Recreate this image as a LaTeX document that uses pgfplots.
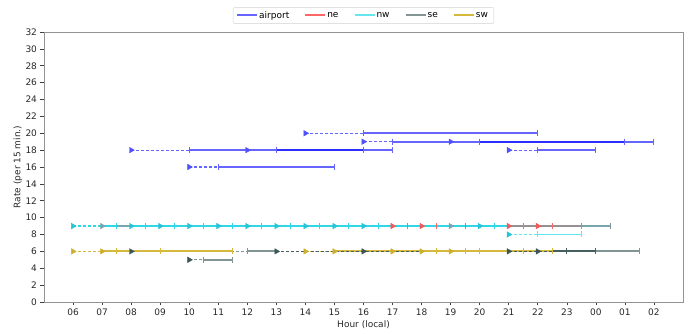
\documentclass[border=0pt]{standalone}
\usepackage{pgfplots}
\pgfplotsset{compat=1.18}
\usepackage{fontspec}
\setmainfont{DejaVu Sans}
\definecolor{airA}{RGB}{102,102,255}
\definecolor{airB}{RGB}{45,45,255}
\definecolor{airT}{RGB}{80,80,255}
\definecolor{neA}{RGB}{255,102,102}
\definecolor{neT}{RGB}{240,90,90}
\definecolor{neG}{RGB}{150,145,145}
\definecolor{nwA}{RGB}{102,231,240}
\definecolor{nwR}{RGB}{50,215,230}
\definecolor{nwT}{RGB}{40,195,215}
\definecolor{seA}{RGB}{130,149,149}
\definecolor{seB}{RGB}{70,95,95}
\definecolor{seC}{RGB}{120,165,172}
\definecolor{seT}{RGB}{60,85,85}
\definecolor{swR}{RGB}{214,184,60}
\definecolor{swT}{RGB}{205,175,45}
\definecolor{txt}{RGB}{40,40,40}
\pgfplotsset{
 lead/.style={draw=#1, line width=1.2pt, dash pattern=on 3pt off 2pt, mark=none, unbounded coords=jump, forget plot},
 run/.style={draw=#1, line width=1.8pt, solid, mark=none, unbounded coords=jump, forget plot},
 tri/.style={only marks, mark=triangle*, mark size=3.2pt, mark options={rotate=-90, draw=#1, fill=#1}, forget plot},
 bar/.style={only marks, mark=|, mark size=3pt, mark options={draw=#1, line width=1pt}, forget plot},
}
\newcommand{\legline}[1]{\node[inner sep=0pt, anchor=west] at (0pt,0pt) {\textcolor{#1}{\rule[-0.75pt]{20pt}{1.5pt}}};}
\begin{document}
\begin{tikzpicture}
\useasboundingbox (-44pt,-32pt) rectangle (647pt,302pt);
\begin{axis}[
 scale only axis, width=639pt, height=270pt,
 at={(0,0)}, anchor=south west,
 xmin=5, xmax=27, ymin=0, ymax=32, clip=false,
 xtick={6,...,26},
 xticklabels={06,07,08,09,10,11,12,13,14,15,16,17,18,19,20,21,22,23,00,01,02},
 ytick={0,2,...,32},
 /pgf/number format/assume math mode=true,
 tick label style={font=\fontsize{9}{10}\selectfont, text=txt},
 label style={font=\fontsize{9}{10}\selectfont, text=txt},
 xlabel={Hour (local)}, ylabel={Rate (per 15 min.)},
 xlabel style={at={(axis description cs:0.5,-0.085)}, anchor=center},
 ylabel style={at={(axis description cs:-0.0407,0.5)}, anchor=center},
 axis line style={gray!85, line width=0.9pt},
 tick style={black!75, line width=0.6pt},
 tick align=outside, major tick length=3.5pt,
 xtick pos=lower, ytick pos=left,
 legend columns=5,
 legend style={at={(axis description cs:0.5,1.03)}, anchor=south, draw=gray!35, rounded corners=2pt,
   font=\fontsize{9}{10}\selectfont, inner xsep=4pt, inner ysep=2pt,
   /tikz/every even column/.append style={column sep=14pt}},
]
\addlegendimage{legend image code/.code={\legline{airA}}}\addlegendentry{airport}
\addlegendimage{legend image code/.code={\legline{neA}}}\addlegendentry{ne}
\addlegendimage{legend image code/.code={\legline{nwA}}}\addlegendentry{nw}
\addlegendimage{legend image code/.code={\legline{seA}}}\addlegendentry{se}
\addlegendimage{legend image code/.code={\legline{swR}}}\addlegendentry{sw}

% ---------------- dashed lead-in parts ----------------
\addplot[lead=airA] coordinates {(14,20) (16,20) (nan,nan) (16,19) (17,19) (nan,nan) (19,19) (20,19) (nan,nan) (8,18) (10,18) (nan,nan) (12,18) (13,18) (nan,nan) (21,18) (22,18) (nan,nan) (10,16) (11,16)};
\addplot[lead=seA] coordinates {(8,6) (12,6) (nan,nan) (16,6) (21,6) (nan,nan) (10,5) (10.5,5)};
\addplot[lead=swR] coordinates {(6,6) (7,6) (nan,nan) (14,6) (15,6)};
\addplot[lead=nwR] coordinates {(6,9) (7,9)};
\addplot[lead=nwA] coordinates {(21,8) (22,8)};

% ---------------- solid parts ----------------
% airport
\addplot[run=airA] coordinates {(16,20) (22,20) (nan,nan) (17,19) (26,19) (nan,nan) (10,18) (17,18) (nan,nan) (22,18) (24,18) (nan,nan) (11,16) (15,16)};
\addplot[run=airB] coordinates {(20,19) (25,19) (nan,nan) (13,18) (16,18)};
% rate 6 and 5: se, sw
\addplot[run=seA] coordinates {(12,6) (13,6) (nan,nan) (10.5,5) (11.5,5)};
\addplot[run=swR] coordinates {(7,6) (11.5,6) (nan,nan) (15,6) (22.5,6)};
\addplot[lead=seB] coordinates {(13,6) (18,6) (nan,nan) (21,6) (22.5,6)};
\addplot[run=seA] coordinates {(24,6) (25.5,6)};
\addplot[run=seB] coordinates {(22.5,6) (24,6)};
% rate 9 and 8: nw, se, ne
\addplot[run=nwR] coordinates {(7,9) (21,9)};
\addplot[run=seC] coordinates {(7.5,9) (8,9) (nan,nan) (23.5,9) (24.5,9)};
\addplot[run=neG] coordinates {(21,9) (23.5,9)};
\addplot[run=nwA] coordinates {(22,8) (23.5,8)};

% ---------------- start markers ----------------
\addplot[tri=airT] coordinates {(14,20) (16,19) (19,19) (8,18) (12,18) (21,18) (10,16)};
\addplot[tri=swT] coordinates {(6,6) (7,6) (14,6) (15,6) (17,6) (18,6) (19,6)};
\addplot[tri=seT] coordinates {(8,6) (13,6) (16,6) (21,6) (22,6) (10,5)};
\addplot[tri=nwT] coordinates {(6,9) (8,9) (9,9) (10,9) (11,9) (12,9) (13,9) (14,9) (15,9) (16,9) (20,9) (21,8)};
\addplot[tri=seC] coordinates {(7,9) (19,9)};
\addplot[tri=neT] coordinates {(17,9) (18,9) (21,9) (22,9)};

% ---------------- end ticks ----------------
\addplot[bar=airA] coordinates {(16,20) (22,20) (17,19) (26,19) (20,19) (25,19) (10,18) (13,18) (16,18) (17,18) (22,18) (24,18) (11,16) (15,16)};
\addplot[bar=swR] coordinates {(7.5,6) (9,6) (11.5,6) (18.5,6) (19.5,6) (20,6) (21.5,6) (22.5,6)};
\addplot[bar=seA] coordinates {(12,6) (25.5,6) (10.5,5) (11.5,5)};
\addplot[bar=seB] coordinates {(23,6) (24,6)};
\addplot[bar=nwR] coordinates {(7.5,9) (8.5,9) (9.5,9) (10.5,9) (11.5,9) (12.5,9) (13.5,9) (14.5,9) (15.5,9) (16.5,9) (20.5,9)};
\addplot[bar=seA] coordinates {(19.5,9) (24.5,9)};
\addplot[bar=neA] coordinates {(17.5,9) (18.5,9) (21.5,9) (22.5,9) (23.5,9)};
\addplot[bar=nwA] coordinates {(22,8) (23.5,8)};
\end{axis}
\end{tikzpicture}
\end{document}
